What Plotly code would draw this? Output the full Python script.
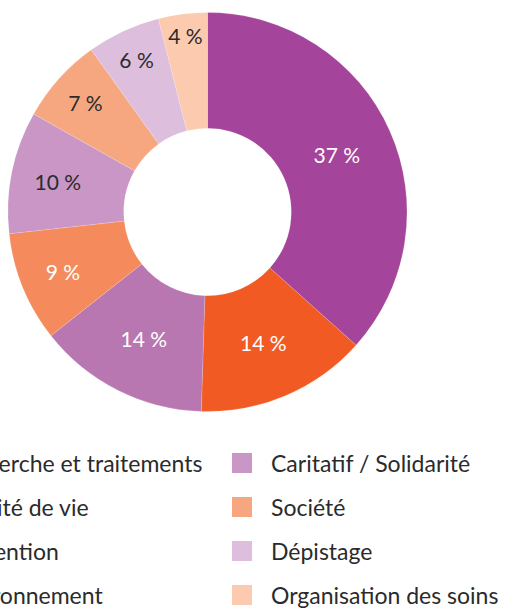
import plotly.graph_objects as go

W, H = 507, 608

labels = ["Recherche et traitements", "Qualité de vie", "Prévention", "Environnement",
          "Caritatif / Solidarité", "Société", "Dépistage", "Organisation des soins"]
values = [37, 14, 14, 9, 10, 7, 6, 4]
colors = ["#A4449A", "#F15A22", "#B977B2", "#F58B5C",
          "#C996C5", "#F6A77F", "#DDBEDC", "#FCCAAE"]
text_colors = ["#FFFFFF", "#FFFFFF", "#FFFFFF", "#FFFFFF",
               "#2B2B2B", "#2B2B2B", "#2B2B2B", "#2B2B2B"]

FONT = "Lato, 'Open Sans', sans-serif"

# pie geometry in pixels
cx, cy, R = 207.5, 212.0, 199.5

fig = go.Figure()
fig.add_trace(go.Pie(
    labels=labels,
    values=values,
    sort=False,
    direction="clockwise",
    rotation=0,
    hole=0.42,
    marker=dict(colors=colors, line=dict(color="rgba(255,255,255,0.3)", width=0.5)),
    texttemplate="%{value} %",
    textposition="inside",
    insidetextorientation="horizontal",
    textfont=dict(family=FONT, size=21, color=text_colors),
    hoverinfo="label+value",
    showlegend=False,
    domain=dict(x=[(cx - R) / W, (cx + R) / W],
                y=[1 - (cy + R) / H, 1 - (cy - R) / H]),
))

# manual two-column legend (left column partly outside the canvas, as in the reference)
shapes = []
annotations = []
row_y = [463, 507, 551, 595]
col_sq_x = [-90, 232]
col_tx_x = [-53, 269]
for i, (lab, col) in enumerate(zip(labels, colors)):
    c = i // 4
    r = i % 4
    y = row_y[r]
    sx = col_sq_x[c]
    shapes.append(dict(type="rect", xref="paper", yref="paper",
                       x0=sx / W, x1=(sx + 20) / W,
                       y0=1 - (y + 10) / H, y1=1 - (y - 10) / H,
                       fillcolor=col, line=dict(width=0)))
    annotations.append(dict(text=lab, xref="paper", yref="paper",
                            x=col_tx_x[c] / W, y=1 - y / H,
                            xanchor="left", yanchor="middle", showarrow=False,
                            font=dict(family=FONT, size=23, color="#2B2B2B")))

fig.update_layout(
    width=W, height=H,
    margin=dict(l=0, r=0, t=0, b=0),
    paper_bgcolor="white",
    plot_bgcolor="white",
    shapes=shapes,
    annotations=annotations,
    uniformtext=dict(minsize=21, mode="show"),
)

fig.write_html("out.html", config={"displayModeBar": False},
               post_script="document.body.style.margin='0';")
